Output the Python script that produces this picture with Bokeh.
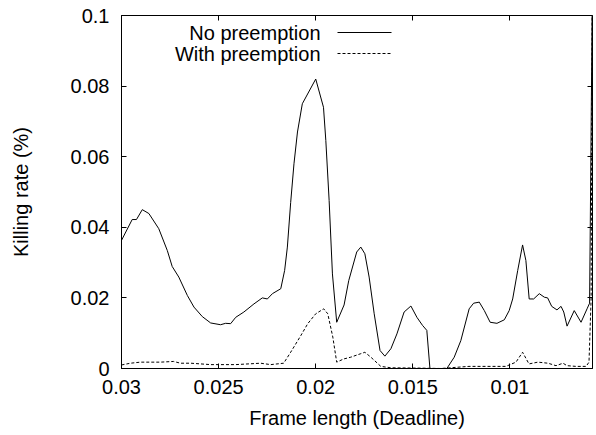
from bokeh.plotting import figure
from bokeh.models import Range1d, FixedTicker, LinearAxis, Label, Arrow
from bokeh.embed import file_html
from bokeh.resources import INLINE

# ---- data ----
deadline_no = [0.0300, 0.02945, 0.02923, 0.02893, 0.02859, 0.02808, 0.02764, 0.02739, 0.02705, 0.02661,
               0.02627, 0.02584, 0.02541, 0.02490, 0.02464, 0.02438, 0.02412, 0.02370, 0.02318, 0.02275,
               0.02249, 0.02223, 0.02180, 0.02160, 0.02146, 0.02129, 0.02112, 0.02094, 0.02069, 0.02000,
               0.01960, 0.01948, 0.01931, 0.01914, 0.01892, 0.01854, 0.01830, 0.01789, 0.01768, 0.01747,
               0.01725, 0.01699, 0.01669, 0.01644, 0.01613, 0.01582, 0.01545, 0.01510, 0.01479, 0.01450,
               0.01428, 0.01412, 0.01325, 0.01287, 0.01253, 0.01210, 0.01187, 0.01158, 0.01132, 0.01102,
               0.01067, 0.01029, 0.01004, 0.00986, 0.00960, 0.00935, 0.00918, 0.00901, 0.00878, 0.00849,
               0.00823, 0.00806, 0.00785, 0.00758, 0.00737, 0.00723, 0.00706, 0.00669, 0.00634, 0.00603,
               0.00590, 0.00577]
kill_no = [0.0363, 0.0422, 0.0422, 0.0450, 0.0439, 0.0396, 0.0334, 0.0289, 0.0259, 0.0207,
           0.0174, 0.0147, 0.0129, 0.0124, 0.0128, 0.0127, 0.0145, 0.0160, 0.0183, 0.0200,
           0.0197, 0.0212, 0.0226, 0.0278, 0.0344, 0.0470, 0.0580, 0.0670, 0.0750, 0.0820,
           0.0740, 0.0646, 0.0476, 0.0268, 0.0131, 0.0180, 0.0249, 0.0330, 0.0344, 0.0325,
           0.0259, 0.0155, 0.0051, 0.0035, 0.0056, 0.0098, 0.0160, 0.0177, 0.0145, 0.0122,
           0.0108, 0.0000, 0.0000, 0.0032, 0.0079, 0.0169, 0.0185, 0.0188, 0.0164, 0.0131,
           0.0128, 0.0138, 0.0164, 0.0197, 0.0278, 0.0350, 0.0306, 0.0197, 0.0197, 0.0212,
           0.0202, 0.0200, 0.0176, 0.0166, 0.0176, 0.0160, 0.0120, 0.0164, 0.0131, 0.0169,
           0.0185, 0.1000]

deadline_with = [0.0300, 0.02954, 0.02902, 0.02799, 0.02732, 0.02696, 0.02644, 0.02541, 0.02412, 0.02284,
                 0.02232, 0.02165, 0.02129, 0.02077, 0.02041, 0.02000, 0.01959, 0.01938, 0.01912, 0.01892,
                 0.01856, 0.01820, 0.01768, 0.01747, 0.01716, 0.01665, 0.01613, 0.01459, 0.01356, 0.01211,
                 0.01021, 0.00969, 0.00935, 0.00902, 0.00856, 0.00804, 0.00763, 0.00727, 0.00706, 0.00660,
                 0.00608, 0.00593, 0.00582, 0.00577]
kill_with = [0.0010, 0.0015, 0.0018, 0.0018, 0.0020, 0.0015, 0.0015, 0.0011, 0.0011, 0.0015,
             0.0011, 0.0015, 0.0046, 0.0093, 0.0127, 0.0155, 0.0169, 0.0155, 0.0089, 0.0018,
             0.0027, 0.0032, 0.0042, 0.0046, 0.0032, 0.0006, 0.0002, 0.0001, 0.0000, 0.0006,
             0.0006, 0.0018, 0.0046, 0.0013, 0.0018, 0.0015, 0.0008, 0.0015, 0.0008, 0.0006,
             0.0006, 0.0018, 0.0200, 0.1000]

x_ticks = [0.03, 0.025, 0.02, 0.015, 0.01]
x_tick_labels = ["0.03", "0.025", "0.02", "0.015", "0.01"]
y_ticks = [0, 0.02, 0.04, 0.06, 0.08, 0.1]
y_tick_labels = ["0", "0.02", "0.04", "0.06", "0.08", "0.1"]
series_names = ["No preemption", "With preemption"]

FONT = "Liberation Sans"
FS = "20px"
W, H = 596, 435
BT, BB = 15, 67

p = figure(width=W, height=H, output_backend="svg", toolbar_location=None,
           x_range=Range1d(0.03, 0.00575), y_range=Range1d(0, 0.1),
           min_border_left=121, min_border_right=4, min_border_top=BT, min_border_bottom=BB)
p.background_fill_color = "white"
p.border_fill_color = "white"
p.outline_line_color = "black"
p.outline_line_width = 1
p.xgrid.visible = False
p.ygrid.visible = False

p.xaxis.ticker = FixedTicker(ticks=x_ticks)
p.yaxis.ticker = FixedTicker(ticks=y_ticks)
p.xaxis.major_label_overrides = {v: s for v, s in zip(x_ticks, x_tick_labels)}
p.yaxis.major_label_overrides = {v: s for v, s in zip(y_ticks, y_tick_labels)}
p.xaxis.axis_label = "Frame length (Deadline)"
p.yaxis.axis_label = "Killing rate (%)"

for ax in (p.xaxis[0], p.yaxis[0]):
    ax.axis_line_color = "black"
    ax.major_tick_in = 5
    ax.major_tick_out = 0
    ax.minor_tick_in = 0
    ax.minor_tick_out = 0
    ax.major_tick_line_color = "black"
    ax.major_label_text_font = FONT
    ax.major_label_text_font_size = FS
    ax.major_label_text_color = "black"
    ax.axis_label_text_font = FONT
    ax.axis_label_text_font_size = FS
    ax.axis_label_text_font_style = "normal"
    ax.axis_label_text_color = "black"
p.xaxis.major_label_standoff = 11
p.xaxis.axis_label_standoff = 10
p.yaxis.major_label_standoff = 12
p.yaxis.axis_label_standoff = 36

# mirrored inward ticks on top and right (no labels)
top_ax = LinearAxis(ticker=FixedTicker(ticks=x_ticks),
                    major_label_overrides={v: "" for v in x_ticks},
                    major_tick_in=5, major_tick_out=0, minor_tick_in=0, minor_tick_out=0,
                    axis_line_color=None, major_label_standoff=0, major_tick_line_color="black")
right_ax = LinearAxis(ticker=FixedTicker(ticks=y_ticks),
                      major_label_overrides={v: "" for v in y_ticks},
                      major_tick_in=5, major_tick_out=0, minor_tick_in=0, minor_tick_out=0,
                      axis_line_color=None, major_label_standoff=0, major_tick_line_color="black")
p.add_layout(top_ax, "above")
p.add_layout(right_ax, "right")

p.line(deadline_no, kill_no, line_color="black", line_width=1)
p.line(deadline_with, kill_with, line_color="black", line_width=1, line_dash="3 2")

# gnuplot-style key: text right-aligned, sample line to the right
frame_h = H - BT - BB
rows = [(series_names[0], None), (series_names[1], "3 2")]
for i, (name, dash) in enumerate(rows):
    ys = frame_h - 17 - 21 * i
    p.add_layout(Label(x=199, y=ys, x_units="screen", y_units="screen", text=name,
                       text_align="right", text_baseline="middle",
                       text_font=FONT, text_font_size=FS, text_color="black"))
    kw = dict(line_dash=dash) if dash else {}
    p.add_layout(Arrow(start=None, end=None, x_start=216, y_start=ys, x_end=270, y_end=ys,
                       start_units="screen", end_units="screen", line_color="black",
                       line_width=1, **kw))

open("out.html", "w").write(file_html(p, INLINE))
